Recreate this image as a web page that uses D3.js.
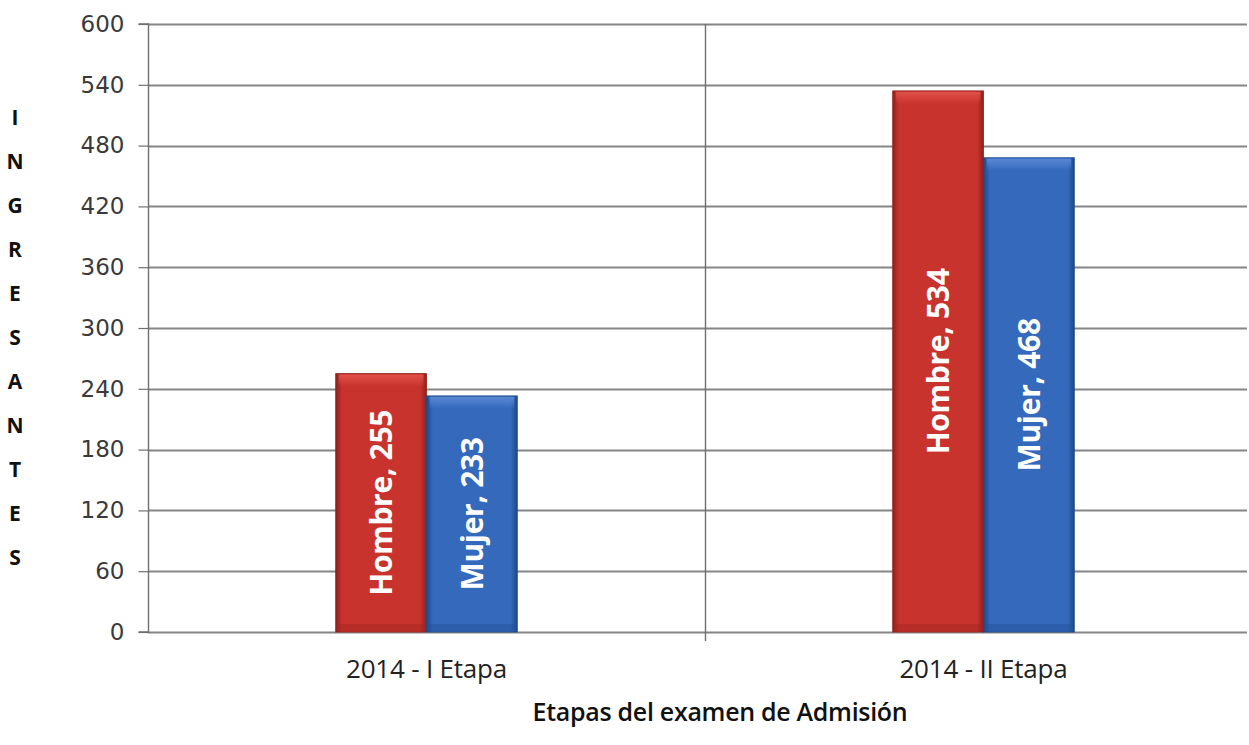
<!DOCTYPE html>
<html>
<head>
<meta charset="utf-8">
<script src="https://cdn.jsdelivr.net/npm/d3@7"></script>
<style>
  html, body { margin: 0; padding: 0; background: #ffffff; }
  svg { display: block; }
</style>
</head>
<body>
<svg id="chart" width="1249" height="745"></svg>
<script>
// Admitted students by exam stage and sex
const stages = ["2014 - I Etapa", "2014 - II Etapa"];
const series = ["Hombre", "Mujer"];
const hombre = [255, 534];
const mujer = [233, 468];
const yTicks = [0, 60, 120, 180, 240, 300, 360, 420, 480, 540, 600];
const yTitle = "INGRESANTES";
const xTitle = "Etapas del examen de Admisión";

const values = { Hombre: hombre, Mujer: mujer };
const rows = stages.map((s, i) => ({ stage: s, items: series.map(k => ({ key: k, value: values[k][i] })) }));

const svg = d3.select("#chart");
const plotLeft = 148, plotTop = 24, plotBottom = 632, plotRight = 1262;

const x = d3.scaleBand().domain(stages).range([plotLeft, plotRight]).paddingInner(0).paddingOuter(0);
const groupW = x.bandwidth() * 0.326;
const xi = d3.scaleBand().domain(series).range([0, groupW]).padding(0);
const y = d3.scaleLinear().domain([0, 600]).range([plotBottom, plotTop]);

const colors = {
  Hombre: { base: "#c8332d", light: "#e0524a", dark: "#8f201c" },
  Mujer:  { base: "#3469bb", light: "#5a8ad6", dark: "#1f4788" }
};

const defs = svg.append("defs");
series.forEach(k => {
  const c = colors[k];
  const g = defs.append("linearGradient").attr("id", "hg-" + k).attr("x1", 0).attr("x2", 1).attr("y1", 0).attr("y2", 0);
  g.append("stop").attr("offset", "0%").attr("stop-color", c.dark);
  g.append("stop").attr("offset", "7%").attr("stop-color", c.base);
  g.append("stop").attr("offset", "50%").attr("stop-color", c.base);
  g.append("stop").attr("offset", "93%").attr("stop-color", c.base);
  g.append("stop").attr("offset", "100%").attr("stop-color", c.dark);
  const t = defs.append("linearGradient").attr("id", "tg-" + k).attr("x1", 0).attr("x2", 0).attr("y1", 0).attr("y2", 1);
  t.append("stop").attr("offset", "0%").attr("stop-color", c.light).attr("stop-opacity", 0.95);
  t.append("stop").attr("offset", "100%").attr("stop-color", c.light).attr("stop-opacity", 0);
});

// horizontal gridlines
const gridRight = 1247;
svg.append("g").selectAll("line").data(yTicks).join("line")
  .attr("x1", plotLeft).attr("x2", gridRight)
  .attr("y1", d => Math.round(y(d)) + 0.5).attr("y2", d => Math.round(y(d)) + 0.5)
  .attr("stroke", "#858585").attr("stroke-width", 1.8);

// vertical separator between stages
svg.append("line")
  .attr("x1", x(stages[1]) + 0.5).attr("x2", x(stages[1]) + 0.5)
  .attr("y1", plotTop).attr("y2", plotBottom + 9)
  .attr("stroke", "#6f6f6f").attr("stroke-width", 1.4);

// y axis
const yAxis = d3.axisLeft(y).tickValues(yTicks).tickSize(10).tickPadding(14);
const ya = svg.append("g").attr("transform", `translate(${plotLeft + 0.5},0)`).call(yAxis);
ya.select(".domain").attr("stroke", "#6f6f6f").attr("stroke-width", 1.4).attr("d", `M-10,${plotTop}H0V${plotBottom}H-10`);
ya.selectAll(".tick line").attr("stroke", "#6f6f6f").attr("stroke-width", 1.2);
ya.selectAll(".tick text").attr("fill", "#3a3a3a").style("font-family", "DejaVu Sans, Verdana, sans-serif").style("font-size", "23px");

// x axis labels
const xAxis = d3.axisBottom(x).tickSize(0).tickPadding(28);
const xa = svg.append("g").attr("transform", `translate(0,${plotBottom})`).call(xAxis);
xa.select(".domain").remove();
xa.selectAll(".tick text").attr("fill", "#222").style("font-family", "Open Sans, sans-serif").style("font-size", "26px").style("letter-spacing", "-0.2px");

// bars
const groups = svg.append("g").selectAll("g").data(rows).join("g")
  .attr("transform", d => `translate(${x(d.stage) + (x.bandwidth() - groupW) / 2},0)`);

groups.each(function(d) {
  const g = d3.select(this);
  d.items.forEach(it => {
    const bx = xi(it.key), bw = xi.bandwidth();
    const by = y(it.value), bh = y(0) - y(it.value);
    const c = colors[it.key];
    g.append("rect").attr("x", bx).attr("y", by).attr("width", bw).attr("height", bh)
      .attr("fill", `url(#hg-${it.key})`).attr("stroke", c.dark).attr("stroke-width", 0.8);
    // top bevel highlight
    g.append("rect").attr("x", bx + 3).attr("y", by + 1).attr("width", bw - 6).attr("height", 12)
      .attr("fill", `url(#tg-${it.key})`);
    // bottom bevel shade
    g.append("rect").attr("x", bx + 3).attr("y", by + bh - 8).attr("width", bw - 6).attr("height", 7)
      .attr("fill", c.dark).attr("opacity", 0.3);
    // rotated value label
    const cx = bx + bw / 2, cy = by + bh / 2;
    g.append("text")
      .attr("transform", `translate(${cx},${cy}) rotate(-90)`)
      .attr("text-anchor", "middle").attr("dy", "0.36em")
      .attr("fill", "#ffffff")
      .style("font-family", "Open Sans, sans-serif").style("font-weight", "700").style("font-size", "30px")
      .style("letter-spacing", "-0.3px")
      .text(`${it.key}, ${it.value}`);
  });
});

// y title, stacked letters
svg.append("g").selectAll("text").data(yTitle.split("")).join("text")
  .attr("x", 15).attr("y", (d, i) => 117 + i * 44).attr("dy", "0.36em")
  .attr("text-anchor", "middle").attr("fill", "#111")
  .style("font-family", "Open Sans, sans-serif").style("font-weight", "700").style("font-size", "21px")
  .text(d => d);

// x title
svg.append("text")
  .attr("x", 720).attr("y", 721)
  .attr("text-anchor", "middle").attr("fill", "#111")
  .style("font-family", "Open Sans, sans-serif").style("font-weight", "600").style("font-size", "25px")
  .style("letter-spacing", "-0.3px")
  .text(xTitle);
</script>
</body>
</html>
